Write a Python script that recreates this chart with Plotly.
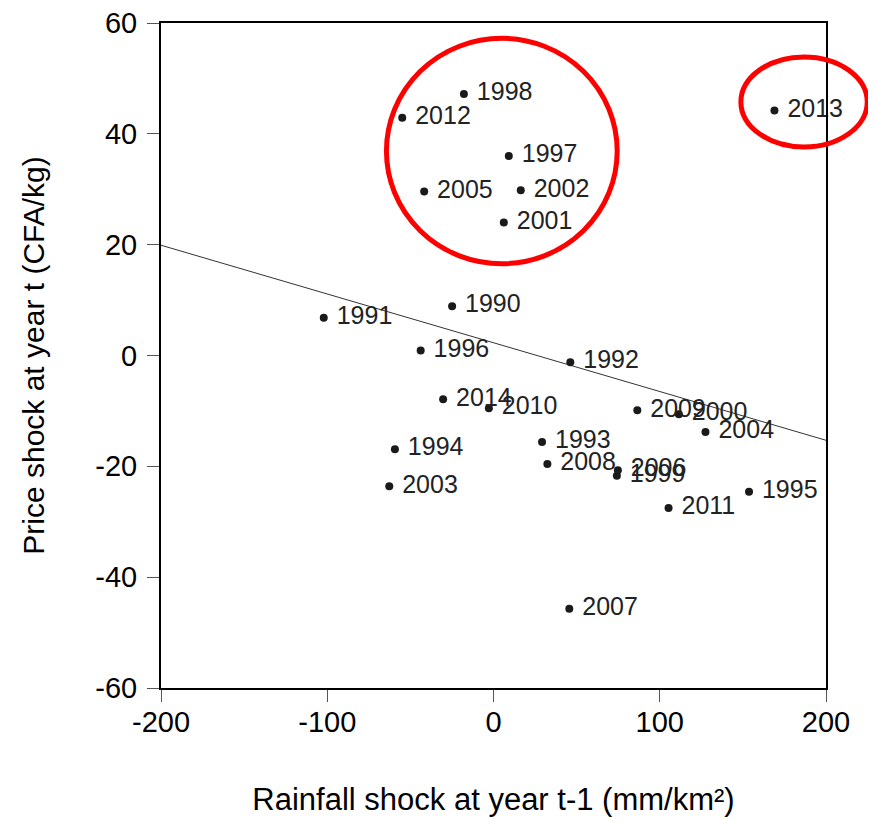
import plotly.graph_objects as go

# Data
years = ["1990", "1991", "1992", "1993", "1994", "1995", "1996", "1997", "1998", "1999",
         "2000", "2001", "2002", "2003", "2004", "2005", "2006", "2007", "2008", "2009",
         "2010", "2011", "2012", "2013", "2014"]
rainfall_shock = [-24.9, -102.1, 46.2, 29.2, -59.3, 153.7, -43.8, 9.2, -17.8, 74.2,
                  111.5, 6.2, 16.4, -62.7, 127.5, -41.7, 74.8, 45.6, 32.4, 86.5,
                  -2.8, 105.3, -54.9, 169.0, -30.3]
price_shock = [8.9, 6.8, -1.2, -15.6, -16.9, -24.6, 0.9, 36.0, 47.2, -21.7,
               -10.6, 24.0, 29.8, -23.6, -13.8, 29.6, -20.7, -45.7, -19.6, -9.9,
               -9.5, -27.5, 42.9, 44.2, -7.9]

fit_x = [-200, 200]
fit_intercept = 2.3
fit_slope = -0.088

x_tickvals = [-200, -100, 0, 100, 200]
x_ticktext = ["-200", "-100", "0", "100", "200"]
y_tickvals = [-60, -40, -20, 0, 20, 40, 60]
y_ticktext = ["-60", "-40", "-20", "0", "20", "40", "60"]

FONT = "Liberation Sans, Arial, sans-serif"

fig = go.Figure()

fig.add_trace(go.Scatter(
    x=fit_x,
    y=[fit_intercept + fit_slope * v for v in fit_x],
    mode="lines",
    line=dict(color="#333333", width=1),
    hoverinfo="skip",
    showlegend=False,
))

fig.add_trace(go.Scatter(
    x=rainfall_shock,
    y=price_shock,
    mode="markers+text",
    text=[" " + y for y in years],
    textposition="middle right",
    textfont=dict(family=FONT, size=25, color="#222222"),
    marker=dict(color="#1a1a1a", size=8),
    showlegend=False,
    cliponaxis=False,
))

# Red highlight circles (paper coordinates)
fig.add_shape(type="circle", xref="paper", yref="paper",
              x0=0.339, x1=0.686, y0=0.638, y1=0.977,
              line=dict(color="#ff0000", width=5))
fig.add_shape(type="circle", xref="paper", yref="paper",
              x0=0.872, x1=1.062, y0=0.8136, y1=0.949,
              line=dict(color="#ff0000", width=5))

axis_common = dict(
    showgrid=False,
    zeroline=False,
    showline=True,
    linecolor="black",
    linewidth=2,
    mirror=True,
    ticks="outside",
    ticklen=12,
    tickwidth=1,
    tickcolor="#555555",
    automargin=False,
    ticklabeloverflow="allow",
    tickfont=dict(family=FONT, size=29, color="black"),
)

fig.update_xaxes(
    range=[-200, 200],
    tickvals=x_tickvals,
    ticktext=x_ticktext,
    ticklabelstandoff=-5,
    title=dict(text="Rainfall shock at year t-1 (mm/km²)",
               font=dict(family=FONT, size=31, color="black"),
               standoff=52),
    **axis_common,
)
fig.update_yaxes(
    range=[-60, 60],
    tickvals=y_tickvals,
    ticktext=y_ticktext,
    ticklabelstandoff=4,
    title=dict(text="Price shock at year t (CFA/kg)",
               font=dict(family=FONT, size=30, color="black"),
               standoff=42),
    **axis_common,
)

fig.update_layout(
    width=876,
    height=822,
    margin=dict(l=153, r=58, t=15, b=142, autoexpand=False),
    paper_bgcolor="white",
    plot_bgcolor="white",
)

fig.write_html("out.html")
